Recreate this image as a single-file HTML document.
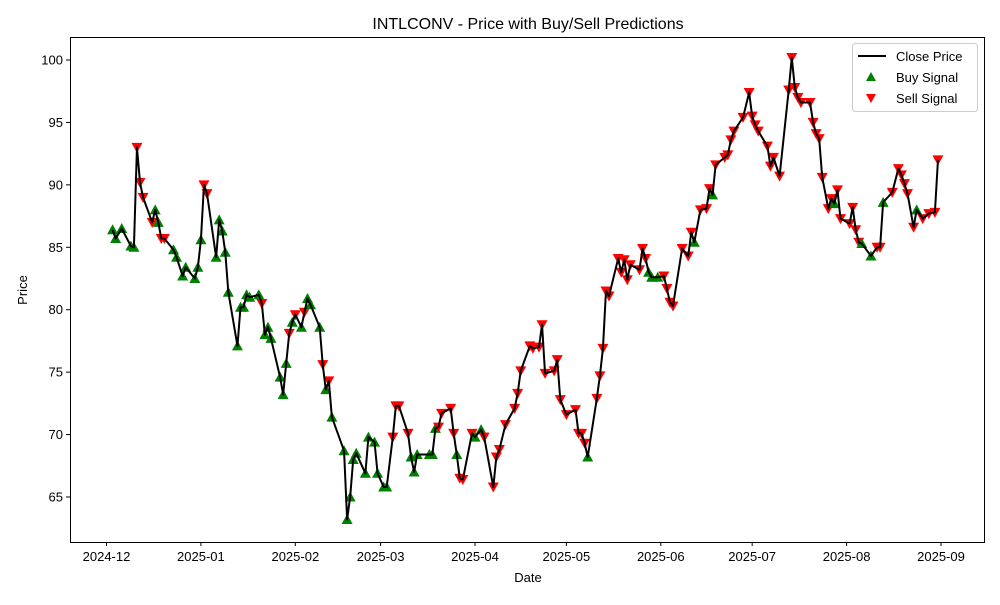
<!DOCTYPE html>
<html><head><meta charset="utf-8"><style>
body{margin:0;background:#fff;}
svg text{font-family:"Liberation Sans","DejaVu Sans",sans-serif;fill:#000;}
</style></head><body>
<svg id="chart" width="1000" height="600" xmlns="http://www.w3.org/2000/svg">
<rect x="0" y="0" width="1000" height="600" fill="#fff"/>
<text x="528" y="29" font-size="16" text-anchor="middle">INTLCONV - Price with Buy/Sell Predictions</text>
<text x="528" y="582" font-size="13" text-anchor="middle">Date</text>
<text x="27" y="290" font-size="13" text-anchor="middle" transform="rotate(-90 27 290)">Price</text>
<g id="grid"></g>
<g id="marks"></g>
<rect x="70.5" y="37.5" width="914" height="505" fill="none" stroke="#000" stroke-width="1"/>
<g>
<rect x="852.5" y="43.5" width="125" height="68" rx="3" fill="#fff" fill-opacity="0.8" stroke="#ccc"/>
<line x1="858" y1="56" x2="886" y2="56" stroke="#000" stroke-width="2"/>
<text x="896" y="61" font-size="13">Close Price</text>
<polygon points="871,72 876,81 866,81" fill="#008000"/>
<text x="896" y="82" font-size="13">Buy Signal</text>
<polygon points="866,94 876,94 871,103" fill="#ff0000"/>
<text x="896" y="103" font-size="13">Sell Signal</text>
</g>
</svg>
<script>
const dates=["2024-12-03","2024-12-04","2024-12-06","2024-12-09","2024-12-10","2024-12-11","2024-12-12","2024-12-13","2024-12-16","2024-12-17","2024-12-18","2024-12-19","2024-12-20","2024-12-23","2024-12-24","2024-12-26","2024-12-27","2024-12-30","2024-12-31",
"2025-01-01","2025-01-02","2025-01-03","2025-01-06","2025-01-07","2025-01-08","2025-01-09","2025-01-10","2025-01-13","2025-01-14","2025-01-15","2025-01-16","2025-01-17","2025-01-20","2025-01-21","2025-01-22","2025-01-23","2025-01-24","2025-01-27","2025-01-28","2025-01-29","2025-01-30","2025-01-31",
"2025-02-01","2025-02-03","2025-02-04","2025-02-05","2025-02-06","2025-02-09","2025-02-10","2025-02-11","2025-02-12","2025-02-13","2025-02-17","2025-02-18","2025-02-19","2025-02-20","2025-02-21","2025-02-24","2025-02-25","2025-02-27","2025-02-28",
"2025-03-02","2025-03-03","2025-03-05","2025-03-06","2025-03-07","2025-03-10","2025-03-11","2025-03-12","2025-03-13","2025-03-17","2025-03-18","2025-03-19","2025-03-20","2025-03-21","2025-03-24","2025-03-25","2025-03-26","2025-03-27","2025-03-28","2025-03-31",
"2025-04-01","2025-04-03","2025-04-04","2025-04-07","2025-04-08","2025-04-09","2025-04-11","2025-04-14","2025-04-15","2025-04-16","2025-04-19","2025-04-20","2025-04-22","2025-04-23","2025-04-24","2025-04-27","2025-04-28","2025-04-29",
"2025-05-01","2025-05-04","2025-05-05","2025-05-06","2025-05-07","2025-05-08","2025-05-11","2025-05-12","2025-05-13","2025-05-14","2025-05-15","2025-05-18","2025-05-19","2025-05-20","2025-05-21","2025-05-22","2025-05-25","2025-05-26","2025-05-27","2025-05-28","2025-05-29","2025-05-31",
"2025-06-02","2025-06-03","2025-06-04","2025-06-05","2025-06-08","2025-06-10","2025-06-11","2025-06-12","2025-06-14","2025-06-16","2025-06-17","2025-06-18","2025-06-19","2025-06-22","2025-06-23","2025-06-24","2025-06-25","2025-06-28","2025-06-30",
"2025-07-01","2025-07-02","2025-07-03","2025-07-06","2025-07-07","2025-07-08","2025-07-10","2025-07-13","2025-07-14","2025-07-15","2025-07-16","2025-07-17","2025-07-20","2025-07-21","2025-07-22","2025-07-23","2025-07-24","2025-07-26","2025-07-27","2025-07-28","2025-07-29","2025-07-30",
"2025-08-02","2025-08-03","2025-08-04","2025-08-05","2025-08-06","2025-08-09","2025-08-11","2025-08-12","2025-08-13","2025-08-16","2025-08-18","2025-08-19","2025-08-20","2025-08-21","2025-08-23","2025-08-24","2025-08-26","2025-08-28","2025-08-30","2025-08-31"];
const prices=[86.4,85.7,86.5,85.1,85.0,93.0,90.2,89.0,87.0,88.0,87.0,85.7,85.7,84.8,84.2,82.7,83.4,82.5,83.4,
85.6,90.0,89.3,84.2,87.2,86.3,84.6,81.4,77.1,80.2,80.2,81.2,81.0,81.2,80.5,78.0,78.6,77.7,74.6,73.2,75.7,78.1,79.0,
79.6,78.6,79.8,80.9,80.4,78.6,75.6,73.6,74.3,71.4,68.7,63.2,65.0,68.0,68.5,66.9,69.8,69.4,66.9,
65.8,65.8,69.8,72.3,72.3,70.1,68.2,67.0,68.4,68.4,68.4,70.5,70.6,71.7,72.1,70.1,68.4,66.5,66.4,70.1,
69.8,70.4,69.8,65.8,68.2,68.8,70.8,72.1,73.3,75.1,77.1,76.9,77.0,78.8,74.9,75.1,76.0,72.8,
71.6,72.0,70.1,70.1,69.3,68.2,72.9,74.7,76.9,81.5,81.1,84.1,83.0,84.0,82.4,83.6,83.2,84.9,84.1,83.0,82.6,82.6,
82.7,81.7,80.6,80.3,84.9,84.3,86.2,85.4,88.0,88.1,89.7,89.2,91.6,92.2,92.4,93.6,94.3,95.4,97.4,
95.5,94.8,94.3,93.1,91.5,92.2,90.7,97.6,100.2,97.8,97.0,96.6,96.6,95.0,94.1,93.7,90.6,88.1,88.9,88.5,89.6,87.3,
86.9,88.2,86.4,85.4,85.3,84.3,85.0,85.0,88.6,89.4,91.3,90.8,90.1,89.3,86.6,88.0,87.3,87.7,87.8,92.0];
const signals=["B","B","B","B","B","S","S","S","S","B","B","S","S","B","B","B","B","B","B",
"B","S","S","B","B","B","B","B","B","B","B","B","B","B","S","B","B","B","B","B","B","S","B",
"S","B","S","B","B","B","S","B","S","B","B","B","B","B","B","B","B","B","B",
"B","B","S","S","S","S","B","B","B","B","B","B","S","S","S","S","B","S","S","S",
"B","B","S","S","S","S","S","S","S","S","S","S","S","S","S","S","S","S",
"S","S","S","S","S","B","S","S","S","S","S","S","S","S","S","S","S","S","S","B","B","B",
"S","S","S","S","S","S","S","B","S","S","S","B","S","S","S","S","S","S","S",
"S","S","S","S","S","S","S","S","S","S","S","S","S","S","S","S","S","S","S","B","S","S",
"S","S","S","S","B","B","S","S","B","S","S","S","S","S","S","B","S","S","S","S"];
const yTicks=[65,70,75,80,85,90,95,100];
const xTickDates=["2024-12-01","2025-01-01","2025-02-01","2025-03-01","2025-04-01","2025-05-01","2025-06-01","2025-07-01","2025-08-01","2025-09-01"];
const xTickLabels=["2024-12","2025-01","2025-02","2025-03","2025-04","2025-05","2025-06","2025-07","2025-08","2025-09"];

const NS="http://www.w3.org/2000/svg";
const t0=Date.UTC(2024,11,1);
function dayOf(s){const p=s.split("-");return (Date.UTC(+p[0],+p[1]-1,+p[2])-t0)/86400000;}
function xScale(s){return 106.5+dayOf(s)*(941-106.5)/274;}
function yScale(v){return 497-(v-65)*(497-60)/35;}
const grid=document.getElementById("grid"),marks=document.getElementById("marks");
yTicks.forEach(v=>{
  const y=yScale(v);
  const l=document.createElementNS(NS,"line");
  l.setAttribute("x1",66);l.setAttribute("x2",70);l.setAttribute("y1",y);l.setAttribute("y2",y);l.setAttribute("stroke","#000");
  
  
  grid.appendChild(l);
  const t=document.createElementNS(NS,"text");
  t.setAttribute("x",63);t.setAttribute("y",y+4.5);t.setAttribute("font-size","13");t.setAttribute("text-anchor","end");
  t.textContent=v;
  
  
  grid.appendChild(t);
});
xTickDates.forEach((d,i)=>{
  const x=xScale(d);
  const l=document.createElementNS(NS,"line");
  l.setAttribute("x1",x);l.setAttribute("x2",x);l.setAttribute("y1",542);l.setAttribute("y2",546);l.setAttribute("stroke","#000");
  
  
  grid.appendChild(l);
  const t=document.createElementNS(NS,"text");
  t.setAttribute("x",x);t.setAttribute("y",561);t.setAttribute("font-size","13");t.setAttribute("text-anchor","middle");
  t.textContent=xTickLabels[i];
  
  
  grid.appendChild(t);
});
dates.forEach((d,i)=>{
  const x=xScale(d),y=yScale(prices[i]);
  const p=document.createElementNS(NS,"polygon");
  if(signals[i]==="B"){
    p.setAttribute("points",`${x},${y-5.5} ${x+5.5},${y+4.5} ${x-5.5},${y+4.5}`);p.setAttribute("fill","#008000");
    
  }else{
    p.setAttribute("points",`${x-5.5},${y-4.5} ${x+5.5},${y-4.5} ${x},${y+5.5}`);p.setAttribute("fill","#ff0000");
    
  }
  
  marks.appendChild(p);
});
const pl=document.createElementNS(NS,"polyline");
pl.setAttribute("points",dates.map((d,i)=>xScale(d)+","+yScale(prices[i])).join(" "));
pl.setAttribute("fill","none");pl.setAttribute("stroke","#000");pl.setAttribute("stroke-width","2");pl.setAttribute("stroke-linejoin","round");


marks.appendChild(pl);
</script>
</body></html>
